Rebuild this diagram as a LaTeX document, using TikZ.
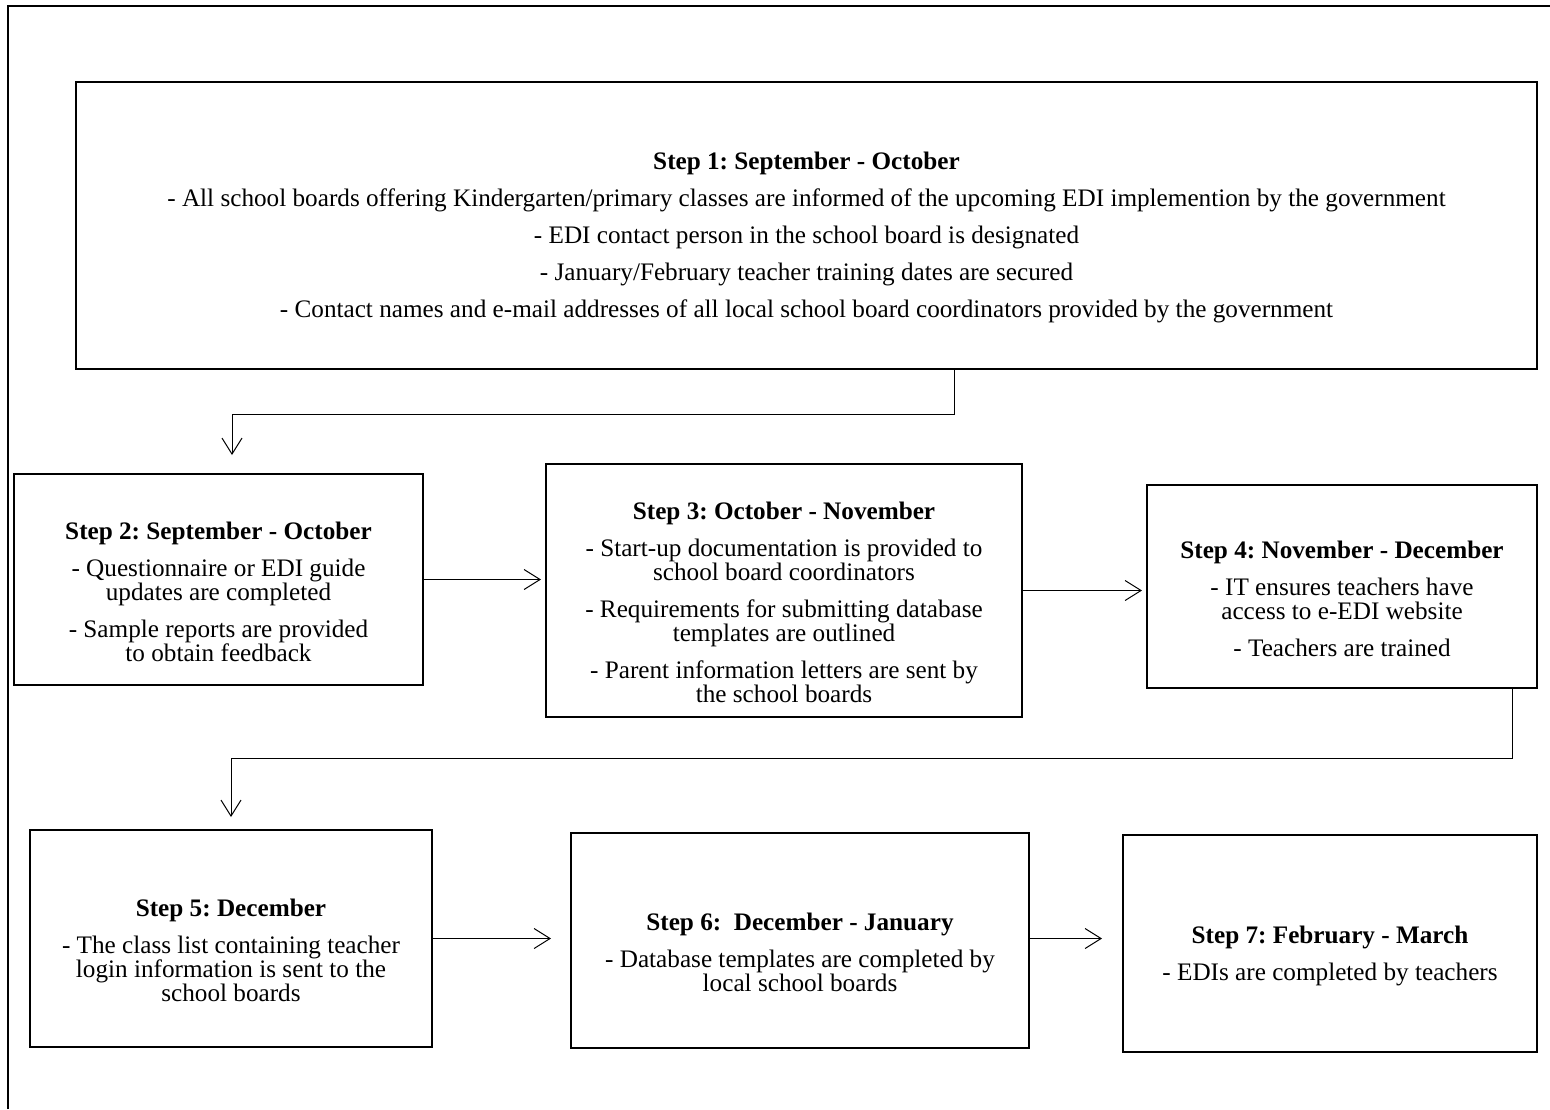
\documentclass[tikz,border=0pt]{standalone}
\usepackage{fontspec}
\setmainfont{Liberation Serif}
\usetikzlibrary{arrows.meta,positioning,calc}
\frenchspacing
\newcommand\steptitle[1]{\rule{0pt}{21pt}\textbf{#1}}

\begin{document}
\begin{tikzpicture}[x=0.5pt, y=-0.5pt,
    stepbox/.style={rectangle, draw, line width=1pt, align=center,
        font=\fontsize{12.6}{12}\selectfont},
    flow/.style={-{Straight Barb[length=8pt,width=10pt]}, line width=0.5pt}]
    \useasboundingbox (0,0) rectangle (1550,1109);
    % Frame
    \draw[line width=1pt] (8,1109) -- (8,6) -- (1550,6);

    % Step 1
    \node[stepbox, minimum width=730.5pt, minimum height=143.5pt] (s1) at (806.5,225.5)
        {\steptitle{Step 1: September - October}\\[6.5pt]
         - All school boards offering Kindergarten/primary classes are informed of the upcoming EDI implemention by the government\\[6.5pt]
         - EDI contact person in the school board is designated\\[6.5pt]
         - January/February teacher training dates are secured\\[6.5pt]
         - Contact names and e-mail addresses of all local school board coordinators provided by the government};

    % Steps 2 - 4
    \node[stepbox, minimum width=204.5pt, minimum height=105.5pt] (s2) at (218.5,579.5)
        {\steptitle{Step 2: September - October}\\[6.5pt]
         - Questionnaire or EDI guide\\ updates are completed\\[6.5pt]
         - Sample reports are provided\\ to obtain feedback};
    \node[stepbox, minimum width=238pt, minimum height=126.5pt] (s3) at (784,590.5)
        {\steptitle{Step 3: October - November}\\[6.5pt]
         - Start-up documentation is provided to\\ school board coordinators\\[6.5pt]
         - Requirements for submitting database\\ templates are outlined\\[6.5pt]
         - Parent information letters are sent by\\ the school boards};
    \node[stepbox, minimum width=195pt, minimum height=101.5pt] (s4) at (1342,586.5)
        {\steptitle{Step 4: November - December}\\[6.5pt]
         - IT ensures teachers have\\ access to e-EDI website\\[6.5pt]
         - Teachers are trained};

    % Steps 5 - 7
    \node[stepbox, minimum width=201pt, minimum height=108.5pt] (s5) at (231,938.5)
        {\steptitle{Step 5: December}\\[6.5pt]
         - The class list containing teacher\\ login information is sent to the\\ school boards};
    \node[stepbox, minimum width=229pt, minimum height=107.5pt] (s6) at (800,940.5)
        {\steptitle{Step 6:~ December - January}\\[6.5pt]
         - Database templates are completed by\\ local school boards};
    \node[stepbox, minimum width=207pt, minimum height=108.5pt] (s7) at (1330,943.5)
        {\steptitle{Step 7: February - March}\\[6.5pt]
         - EDIs are completed by teachers};

    % Arrows
    \coordinate (k1) at (954,414);
    \coordinate (k2) at (232,455);
    \coordinate (k3) at (1512,758);
    \draw[flow] (s1.south -| k1) -- (k1) -| (k2);
    \draw[flow, shorten >=2pt] (s2.east) -- (s2.east -| s3.west);
    \draw[flow, shorten >=2pt] (s3.east) -- (s3.east -| s4.west);
    \draw[flow, shorten >=6pt] (s4.south -| k3) -- (k3) -| (s5.north);
    \draw[flow, shorten >=9.5pt] (s5.east) -- (s5.east -| s6.west);
    \draw[flow, shorten >=10pt] (s6.east |- s5.east) -- (s7.west |- s5.east);
\end{tikzpicture}
\end{document}
